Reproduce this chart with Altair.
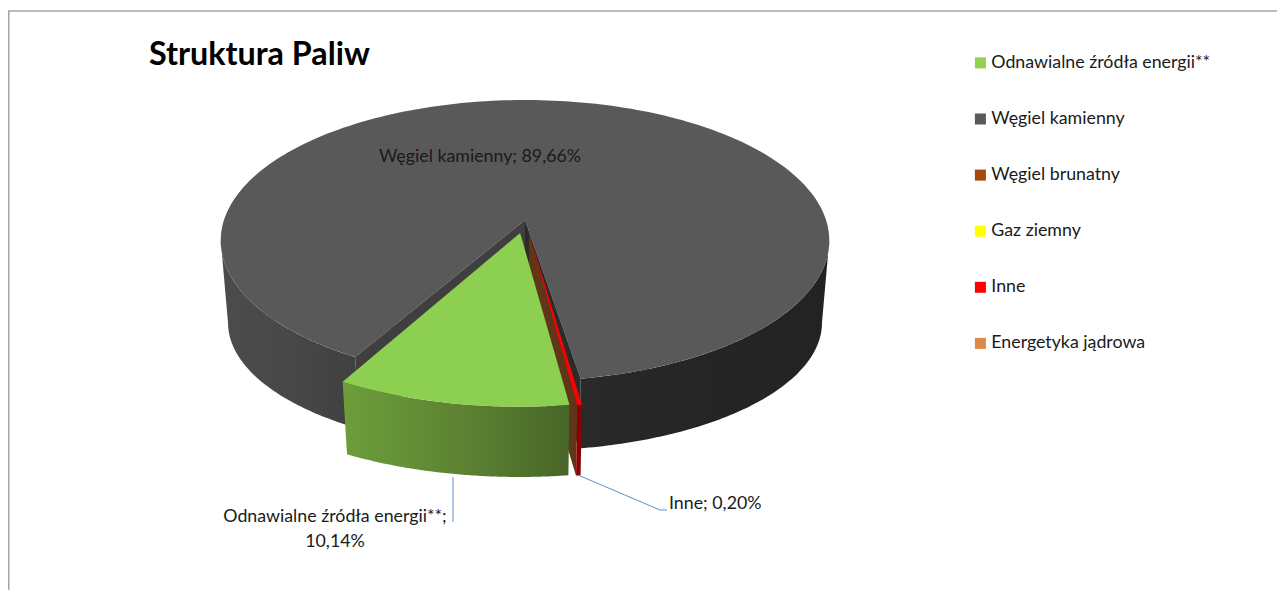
import math
import altair as alt

# ---- data
categories = ["Odnawialne źródła energii**", "Węgiel kamienny", "Węgiel brunatny",
              "Gaz ziemny", "Inne", "Energetyka jądrowa"]
shares = [10.14, 89.66, 0.0, 0.0, 0.20, 0.0]
legend_colors = ["#92D050", "#595959", "#A5490F", "#FFFF00", "#FF0000", "#DD8844"]
title_text = "Struktura Paliw"

FONT = "Lato"
W, H = 1269, 582
OX, OY = 8, 8   # page margin


def deg(share):
    return share * 3.6


# ---- perspective view of the pie (angle 0 = towards the viewer)
P = 0.146
TOP = dict(cx=525, y0=220, a=301.0, b=137.5)
BOT = dict(cx=525, y0=304, a=293.8, b=125.2)
BOT_X = dict(cx=525, y0=307, a=293.8, b=125.2)  # underside of the pulled-out slices
SIDE = 81.6  # where the rim turns away from the viewer


def project(u, v, plane):
    d = 1 - P * v
    return [plane["cx"] + plane["a"] * u / d - OX, plane["y0"] + plane["b"] * v / d - OY]


def rim(t0, t1, plane, r=1.0, su=0.0, sv=0.0, n=90):
    pts = []
    for i in range(n + 1):
        t = math.radians(t0 + (t1 - t0) * i / n)
        pts.append(project(su + r * math.sin(t), sv + r * math.cos(t), plane))
    return pts


def centre(plane, su=0.0, sv=0.0):
    return project(su, sv, plane)


def poly(pts):
    return {"type": "Feature", "properties": {},
            "geometry": {"type": "Polygon", "coordinates": [pts + [pts[0]]]}}


def path(pts):
    return {"type": "Feature", "properties": {},
            "geometry": {"type": "LineString", "coordinates": pts}}


def shape(feature, **mark):
    return alt.Chart(alt.Data(values=[feature])).mark_geoshape(**mark).project(
        type="identity", scale=1, translate=[0, 0])


def grad(stops):
    return alt.LinearGradient(gradient="linear", x1=0, x2=1, y1=0, y2=0,
                              stops=[alt.GradientStop(color=c, offset=o) for o, c in stops])


def slab(t0, t1, r=1.0, su=0.0, sv=0.0, bot=BOT):
    return poly(rim(t0, t1, TOP, r, su, sv) + rim(t1, t0, bot, r, su, sv))


def radial_wall(t, r=1.0, su=0.0, sv=0.0, bot=BOT):
    return poly([centre(TOP, su, sv), rim(t, t, TOP, r, su, sv, 1)[0],
                 rim(t, t, bot, r, su, sv, 1)[0], centre(bot, su, sv)])


# angles come from the shares
GREEN_START = -28.8
green_end = GREEN_START + deg(shares[0])
RED_START = 7.3
red_end = RED_START + deg(shares[4])
GAP_L, GAP_R = -29.5, 9.1
dark_end = GAP_L + 360

EXPL = 1.04
g_su, g_sv = -0.016, 0.093
r_su, r_sv = 0.013, 0.094

layers = [
    # frame
    shape(path([[0.75, H], [0.75, 3], [W, 3]]), filled=False, stroke="#A6A6A6", strokeWidth=1.6),
    # outer wall of the dark slice
    shape(slab(-SIDE, GAP_L), fill=grad([(0, "#4C4C4C"), (0.55, "#474747"), (1, "#404040")])),
    shape(slab(GAP_R, SIDE), fill=grad([(0, "#2A2A2A"), (0.3, "#262626"), (1, "#232323")])),
    # top of the dark slice
    shape(poly([centre(TOP)] + rim(GAP_R, dark_end, TOP, n=240)), fill="#595959"),
    # inner walls of the dark slice
    shape(radial_wall(GAP_L), fill="#3F3F3F"),
    shape(radial_wall(GAP_R), fill="#2B2B2B"),
    # exploded red slice and the brown cut face
    shape(radial_wall(RED_START, EXPL, r_su, r_sv, BOT_X), fill="#5F3718"),
    shape(slab(RED_START, red_end, EXPL, r_su, r_sv, BOT_X), fill="#8B0000"),
    shape(poly([centre(TOP, r_su, r_sv)] + rim(RED_START, red_end, TOP, EXPL, r_su, r_sv, 4)),
          fill="#FF0000"),
    # exploded green slice
    shape(slab(GREEN_START, green_end, EXPL, g_su, g_sv, BOT_X),
          fill=grad([(0, "#6C9E3A"), (0.5, "#5E8433"), (1, "#476527")])),
    shape(poly([centre(TOP, g_su, g_sv)] + rim(GREEN_START, green_end, TOP, EXPL, g_su, g_sv)),
          fill="#8DCF50"),
    # leader lines
    shape(path([[453 - OX, 477 - OY], [453 - OX, 522 - OY]]), filled=False, stroke="#5B8FC9", strokeWidth=1),
    shape(path([[578 - OX, 475 - OY], [660 - OX, 510 - OY], [667 - OX, 510 - OY]]),
          filled=False, stroke="#5B8FC9", strokeWidth=1),
]


def pct(v):
    return f"{v:.2f}".replace(".", ",") + "%"


labels = [
    dict(t=f"{categories[1]}; {pct(shares[1])}", x=480 - OX, y=157 - OY, align="center"),
    dict(t=f"{categories[0]};", x=335 - OX, y=517 - OY, align="center"),
    dict(t=pct(shares[0]), x=335 - OX, y=542 - OY, align="center"),
    dict(t=f"{categories[4]}; {pct(shares[4])}", x=669 - OX, y=504 - OY, align="left"),
]
for lab in labels:
    layers.append(
        alt.Chart(alt.Data(values=[lab])).mark_text(
            font=FONT, fontSize=17.8, color="#1A1A1A", align=lab["align"], baseline="middle"
        ).encode(x=alt.value(lab["x"]), y=alt.value(lab["y"]), text=alt.Text("t:N"))
    )

# legend, carried by invisible points
legend_layer = alt.Chart(alt.Data(values=[{"c": c} for c in categories])).mark_point(
    size=0, opacity=1, filled=True
).encode(
    x=alt.value(0), y=alt.value(0),
    color=alt.Color(
        "c:N",
        scale=alt.Scale(domain=categories, range=legend_colors),
        legend=alt.Legend(
            title=None, orient="none", legendX=963.5, legendY=46, symbolType="square",
            symbolSize=121, symbolStrokeWidth=0, labelFont=FONT, labelFontSize=17.8,
            labelColor="#1A1A1A", rowPadding=37.1, labelOffset=2, labelLimit=300,
            symbolOpacity=1,
        ),
    ),
)
layers.append(legend_layer)

chart = alt.layer(*layers).properties(
    width=W, height=H,
    padding=0,
    autosize=alt.AutoSizeParams(type="none"),
    title=alt.TitleParams(title_text, anchor="start", frame="group", font=FONT, fontSize=32.3,
                          fontWeight="bold", color="#000000", dx=141, dy=63, offset=0),
).configure_view(stroke=None)

chart.save("out.html", embed_options={"renderer": "svg", "actions": False})
